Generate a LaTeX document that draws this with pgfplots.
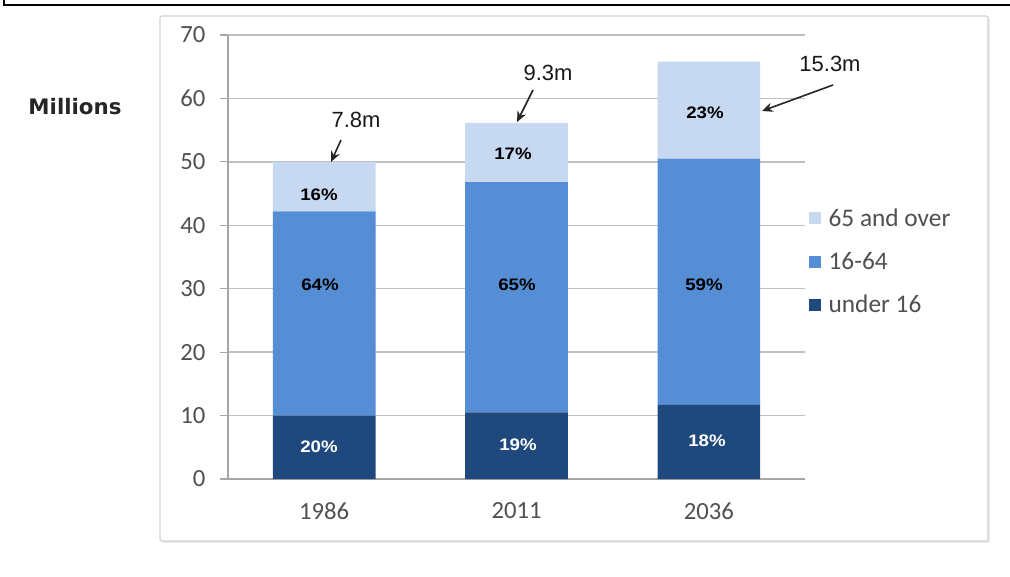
\documentclass[border=0pt]{standalone}
\usepackage{pgfplots}
\pgfplotsset{compat=1.18}
\usepackage{fontspec}
\setmainfont{Carlito}
\newfontfamily\arial{Liberation Sans}
\newfontfamily\verd{DejaVu Sans}
\usetikzlibrary{arrows.meta}
\definecolor{cOld}{HTML}{C6D9F1}
\definecolor{cMid}{HTML}{558ED5}
\definecolor{cYoung}{HTML}{1F497D}
\definecolor{gridc}{HTML}{C0C0C0}
\definecolor{axc}{HTML}{A6A6A6}
\definecolor{tickc}{HTML}{505050}
\begin{document}
\begin{tikzpicture}[x=0.75pt,y=0.75pt]
\useasboundingbox (0,0) rectangle (1010,576);
% outer frame lines
\draw[black,line width=1.5pt] (4,576) -- (4,571) -- (1010,571);
% chart box
\fill[black!8] (162,33) rectangle (990,558);
\draw[black!18,fill=white,rounded corners=1.5pt,line width=0.8pt] (160,35) rectangle (988,560);
\begin{axis}[
  at={(171pt,72.75pt)}, anchor=south west,
  scale only axis,
  width=432.75pt, height=333pt,
  xmin=-0.5, xmax=2.5, ymin=0, ymax=70,
  ybar stacked, bar width=77pt,
  xtick={0,1,2}, xticklabels={1986,2011,2036},
  extra x ticks={-0.5,0.5,1.5,2.5}, extra x tick labels={},
  extra x tick style={major tick length=6pt, tick align=outside, tick style={axc,line width=0.8pt}},
  ytick={0,10,...,70},
  major x tick style={draw=none},
  tick align=outside,
  major tick length=6pt,
  y tick style={axc,line width=0.8pt},
  ymajorgrids, grid style={gridc,line width=1.1pt},
  axis x line*=bottom, axis y line*=left,
  axis line style={axc,line width=0.9pt},
  separate axis lines,
  x axis line style={-}, y axis line style={-},
  tick label style={font=\fontsize{18.5}{20}\selectfont, text=tickc},
  xticklabel style={yshift=-8pt},
  yticklabel style={xshift=-7.5pt},
  /pgf/number format/assume math mode=true,
  legend style={at={(1.0,0.62)}, anchor=north west, draw=none, fill=none,
    font=\fontsize{19}{21}\selectfont, text=tickc, row sep=15pt,
    nodes={inner sep=1.5pt}},
  legend cell align=left,
  reverse legend,
  legend image code/.code={\fill[#1] (0pt,-4.5pt) rectangle (9pt,4.5pt); \path (13pt,0pt);},
]
\addplot[fill=cYoung,draw=none] coordinates {(0,10.0) (1,10.5) (2,11.7)};
\addlegendentry{under 16}
\addplot[fill=cMid,draw=none] coordinates {(0,32.2) (1,36.3) (2,38.8)};
\addlegendentry{16-64}
\addplot[fill=cOld,draw=none] coordinates {(0,7.8) (1,9.3) (2,15.3)};
\addlegendentry{65 and over}
\end{axis}
% percentage labels
\begin{scope}[every node/.style={font=\arial\bfseries\fontsize{12.5}{14}\selectfont, xscale=1.12}]
\node[text=black] at (319,381) {16\%};
\node[text=black] at (320,291) {64\%};
\node[text=white] at (319,129) {20\%};
\node[text=black] at (513,422) {17\%};
\node[text=black] at (517,291) {65\%};
\node[text=white] at (518,131) {19\%};
\node[text=black] at (705,463) {23\%};
\node[text=black] at (704,291) {59\%};
\node[text=white] at (707,135) {18\%};
\end{scope}
% annotations
\begin{scope}[every node/.style={font=\arial\fontsize{16.5}{18}\selectfont, text=black!90}]
\node at (356,456) {7.8m};
\node at (548,503) {9.3m};
\node at (830,512) {15.3m};
\end{scope}
\begin{scope}[black!85, line width=1.2pt, -{Stealth[length=8pt,width=7pt]}]
\draw (341,436) -- (331,414);
\draw (533,486) -- (517,454);
\draw (833,491) -- (762,465);
\end{scope}
\node[font=\verd\bfseries\fontsize{16}{18}\selectfont, text=black!85] at (75,469) {Millions};
\end{tikzpicture}
\end{document}
